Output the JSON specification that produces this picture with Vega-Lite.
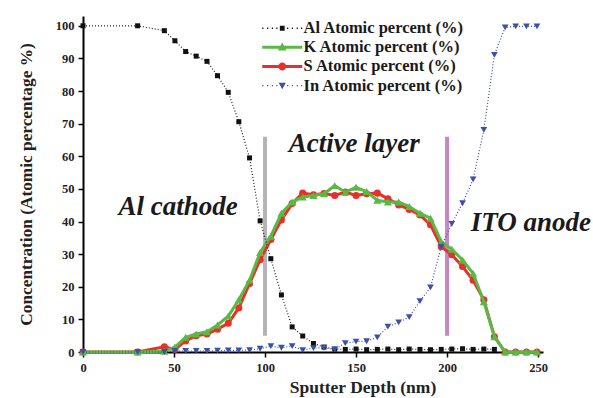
{
  "$schema": "https://vega.github.io/schema/vega-lite/v6.json",
  "width": 460,
  "height": 336,
  "autosize": "none",
  "padding": {"left": 83, "top": 16, "right": 50, "bottom": 46},
  "background": "white",
  "config": {
    "view": {"stroke": null},
    "font": "Liberation Serif",
    "axis": {
      "domainColor": "#000", "domainWidth": 2, "tickColor": "#000", "tickWidth": 1.5, "tickSize": 5,
      "labelFont": "Liberation Serif", "labelFontWeight": "bold", "labelFontSize": 12.5, "labelColor": "#222",
      "titleFont": "Liberation Serif", "titleFontWeight": "bold", "titleColor": "#222", "grid": false,
      "labelPadding": 4, "labelFlush": false
    }
  },
  "datasets": {
    "prof": [
      {"series":"S","depth":0,"value":0},{"series":"S","depth":30,"value":0},{"series":"S","depth":44.7,"value":1.6},{"series":"S","depth":50.5,"value":0.8},{"series":"S","depth":56.4,"value":3.4},{"series":"S","depth":62.2,"value":5.0},{"series":"S","depth":68.1,"value":5.5},{"series":"S","depth":73.9,"value":7.0},{"series":"S","depth":79.8,"value":8.8},{"series":"S","depth":85.6,"value":13.5},{"series":"S","depth":91.5,"value":21},{"series":"S","depth":97.3,"value":28.3},{"series":"S","depth":103.2,"value":34.5},{"series":"S","depth":109.0,"value":40.5},{"series":"S","depth":114.9,"value":45.5},{"series":"S","depth":120.7,"value":48.7},{"series":"S","depth":126.6,"value":48.2},{"series":"S","depth":132.4,"value":48.6},{"series":"S","depth":138.3,"value":48},{"series":"S","depth":144.1,"value":49},{"series":"S","depth":150.0,"value":48},{"series":"S","depth":155.8,"value":48.5},{"series":"S","depth":161.7,"value":48.7},{"series":"S","depth":167.5,"value":47},{"series":"S","depth":173.4,"value":45.1},{"series":"S","depth":179.2,"value":43.7},{"series":"S","depth":185.1,"value":42},{"series":"S","depth":190.9,"value":39},{"series":"S","depth":196.8,"value":32.3},{"series":"S","depth":202.6,"value":29.8},{"series":"S","depth":208.5,"value":26.2},{"series":"S","depth":214.3,"value":22},{"series":"S","depth":220.2,"value":16},{"series":"S","depth":226.0,"value":4.7},{"series":"S","depth":231.9,"value":0},{"series":"S","depth":237.7,"value":0},{"series":"S","depth":243.6,"value":0},{"series":"S","depth":249.4,"value":0},
      {"series":"K","depth":0,"value":0},{"series":"K","depth":30,"value":0},{"series":"K","depth":44.7,"value":0.2},{"series":"K","depth":50.5,"value":1.5},{"series":"K","depth":56.4,"value":4.5},{"series":"K","depth":62.2,"value":5.5},{"series":"K","depth":68.1,"value":6.2},{"series":"K","depth":73.9,"value":8.3},{"series":"K","depth":79.8,"value":11},{"series":"K","depth":85.6,"value":16},{"series":"K","depth":91.5,"value":22},{"series":"K","depth":97.3,"value":30.5},{"series":"K","depth":103.2,"value":35.5},{"series":"K","depth":109.0,"value":42.5},{"series":"K","depth":114.9,"value":46},{"series":"K","depth":120.7,"value":47.5},{"series":"K","depth":126.6,"value":48},{"series":"K","depth":132.4,"value":48.5},{"series":"K","depth":138.3,"value":51},{"series":"K","depth":144.1,"value":49},{"series":"K","depth":150.0,"value":50.5},{"series":"K","depth":155.8,"value":49.2},{"series":"K","depth":161.7,"value":46.5},{"series":"K","depth":167.5,"value":46},{"series":"K","depth":173.4,"value":46},{"series":"K","depth":179.2,"value":44.6},{"series":"K","depth":185.1,"value":42.5},{"series":"K","depth":190.9,"value":41},{"series":"K","depth":196.8,"value":33.8},{"series":"K","depth":202.6,"value":31.5},{"series":"K","depth":208.5,"value":28.2},{"series":"K","depth":214.3,"value":24.1},{"series":"K","depth":220.2,"value":15.4},{"series":"K","depth":226.0,"value":4.7},{"series":"K","depth":231.9,"value":0},{"series":"K","depth":237.7,"value":0},{"series":"K","depth":243.6,"value":0},{"series":"K","depth":249.4,"value":0},
      {"series":"Al","depth":0,"value":100},{"series":"Al","depth":30,"value":100},{"series":"Al","depth":44.7,"value":98.5},{"series":"Al","depth":50.5,"value":95.4},{"series":"Al","depth":56.4,"value":92.1},{"series":"Al","depth":62.2,"value":90.7},{"series":"Al","depth":68.1,"value":89.1},{"series":"Al","depth":73.9,"value":84.7},{"series":"Al","depth":79.8,"value":79.6},{"series":"Al","depth":85.6,"value":70.6},{"series":"Al","depth":91.5,"value":59.5},{"series":"Al","depth":97.3,"value":40.2},{"series":"Al","depth":103.2,"value":28.6},{"series":"Al","depth":109.0,"value":17.5},{"series":"Al","depth":114.9,"value":7.7},{"series":"Al","depth":120.7,"value":4.9},{"series":"Al","depth":126.6,"value":2.6},{"series":"Al","depth":132.4,"value":1.5},{"series":"Al","depth":138.3,"value":0.9},{"series":"Al","depth":144.1,"value":0.8},{"series":"Al","depth":150.0,"value":0.9},{"series":"Al","depth":155.8,"value":0.7},{"series":"Al","depth":161.7,"value":0.8},{"series":"Al","depth":167.5,"value":0.9},{"series":"Al","depth":173.4,"value":0.7},{"series":"Al","depth":179.2,"value":0.9},{"series":"Al","depth":185.1,"value":0.8},{"series":"Al","depth":190.9,"value":0.7},{"series":"Al","depth":196.8,"value":0.8},{"series":"Al","depth":202.6,"value":0.9},{"series":"Al","depth":208.5,"value":1.0},{"series":"Al","depth":214.3,"value":0.8},{"series":"Al","depth":220.2,"value":0.9},{"series":"Al","depth":226.0,"value":0.8},
      {"series":"In","depth":0,"value":0},{"series":"In","depth":30,"value":0},{"series":"In","depth":44.7,"value":0},{"series":"In","depth":50.5,"value":0.3},{"series":"In","depth":56.4,"value":0.3},{"series":"In","depth":62.2,"value":0.3},{"series":"In","depth":68.1,"value":0.3},{"series":"In","depth":73.9,"value":0.4},{"series":"In","depth":79.8,"value":0.5},{"series":"In","depth":85.6,"value":0.5},{"series":"In","depth":91.5,"value":0.6},{"series":"In","depth":97.3,"value":1.0},{"series":"In","depth":103.2,"value":1.8},{"series":"In","depth":109.0,"value":1.3},{"series":"In","depth":114.9,"value":1.8},{"series":"In","depth":120.7,"value":0.6},{"series":"In","depth":126.6,"value":1.2},{"series":"In","depth":132.4,"value":1.3},{"series":"In","depth":138.3,"value":0.8},{"series":"In","depth":144.1,"value":2.7},{"series":"In","depth":150.0,"value":3.2},{"series":"In","depth":155.8,"value":3.3},{"series":"In","depth":161.7,"value":4.5},{"series":"In","depth":167.5,"value":7.8},{"series":"In","depth":173.4,"value":9.1},{"series":"In","depth":179.2,"value":10.7},{"series":"In","depth":185.1,"value":15.6},{"series":"In","depth":190.9,"value":19.8},{"series":"In","depth":196.8,"value":32.3},{"series":"In","depth":202.6,"value":39.3},{"series":"In","depth":208.5,"value":45.6},{"series":"In","depth":214.3,"value":52.9},{"series":"In","depth":220.2,"value":68.1},{"series":"In","depth":226.0,"value":91.1},{"series":"In","depth":231.9,"value":99.5},{"series":"In","depth":237.7,"value":99.8},{"series":"In","depth":243.6,"value":99.8},{"series":"In","depth":249.4,"value":99.8}
    ],
    "bars": [
      {"region":"cathode","depth":100,"value":5,"top":66},
      {"region":"anode","depth":200,"value":5,"top":66}
    ],
    "notes": [
      {"label":"Al cathode","depth":52.2,"value":42},
      {"label":"Active layer","depth":149,"value":61.3},
      {"label":"ITO anode","depth":246,"value":37.1}
    ]
  },
  "encoding": {
    "x": {"field": "depth", "type": "quantitative", "scale": {"domain": [0, 252.7], "nice": false},
          "axis": {"values": [0, 50, 100, 150, 200, 250], "title": "Sputter Depth (nm)", "titleFontSize": 17.5, "titleX": 279.5, "titleY": 40.7, "titleBaseline": "alphabetic", "titleAlign": "center"}},
    "y": {"field": "value", "type": "quantitative", "scale": {"domain": [0, 103], "nice": false},
          "axis": {"values": [0, 10, 20, 30, 40, 50, 60, 70, 80, 90, 100], "title": "Concentration (Atomic percentage %)", "titleFontSize": 17.3, "titlePadding": 20}}
  },
  "layer": [
    {
      "data": {"name": "bars"},
      "mark": {"type": "rule", "strokeWidth": 4},
      "encoding": {
        "y2": {"field": "top"},
        "stroke": {"field": "region", "type": "nominal", "scale": {"domain": ["cathode", "anode"], "range": ["#b4b4b4", "#c586c3"]}, "legend": null}
      }
    },
    {
      "data": {"name": "prof"},
      "transform": [{"filter": {"field": "series", "equal": "S"}}],
      "layer": [
        {"mark": {"type": "line", "color": "#e8302a", "strokeWidth": 3}, "encoding": {}},
        {"mark": {"type": "point", "filled": true, "opacity": 1, "size": 50, "shape": "circle", "color": "#e8302a"}, "encoding": {}}
      ]
    },
    {
      "data": {"name": "prof"},
      "transform": [{"filter": {"field": "series", "equal": "K"}}],
      "layer": [
        {"mark": {"type": "line", "color": "#58b944", "strokeWidth": 3}, "encoding": {}},
        {"mark": {"type": "point", "filled": true, "opacity": 1, "size": 65, "shape": "triangle-up", "color": "#58b944"}, "encoding": {}}
      ]
    },
    {
      "data": {"name": "prof"},
      "transform": [{"filter": {"field": "series", "equal": "Al"}}],
      "layer": [
        {"mark": {"type": "line", "color": "#222222", "strokeWidth": 1.2, "strokeDash": [1, 2]}, "encoding": {}},
        {"mark": {"type": "point", "filled": true, "opacity": 1, "size": 25, "shape": "square", "color": "#111111"}, "encoding": {}}
      ]
    },
    {
      "data": {"name": "prof"},
      "transform": [{"filter": {"field": "series", "equal": "In"}}],
      "layer": [
        {"mark": {"type": "line", "color": "#3b50a8", "strokeWidth": 1.2, "strokeDash": [1, 2]}, "encoding": {}},
        {"mark": {"type": "point", "filled": true, "opacity": 1, "size": 45, "shape": "triangle-down", "color": "#3b50a8"}, "encoding": {}}
      ]
    },
    {
      "data": {"name": "prof"},
      "transform": [{"filter": {"field": "value", "lt": -1}}],
      "mark": {"type": "point", "filled": true, "opacity": 1, "size": 256, "strokeWidth": 0},
      "encoding": {
        "color": {"field": "series", "type": "nominal",
          "scale": {"domain": ["Al", "K", "S", "In"], "range": ["#111111", "#58b944", "#e8302a", "#3b50a8"]},
          "legend": {"title": null, "orient": "none", "legendX": 191, "legendY": 4, "padding": 0, "symbolSize": 256, "rowPadding": 2.1,
            "symbolOpacity": 1, "symbolStrokeWidth": 0,
            "labelFont": "Liberation Serif", "labelFontWeight": "bold", "labelFontSize": 16.5, "labelColor": "#1a1a1a", "labelOffset": 13, "labelLimit": 300,
            "labelExpr": "datum.label + ' Atomic percent (%)'"}},
        "shape": {"field": "series", "type": "nominal",
          "scale": {"domain": ["Al", "K", "S", "In"], "range": [
            "M-2.5,-0.08h0.15v0.16h-0.15ZM-1.9,-0.08h0.15v0.16h-0.15ZM-1.3,-0.08h0.15v0.16h-0.15ZM-0.75,-0.08h0.15v0.16h-0.15ZM0.6,-0.08h0.15v0.16h-0.15ZM1.2,-0.08h0.15v0.16h-0.15ZM1.8,-0.08h0.15v0.16h-0.15ZM2.35,-0.08h0.15v0.16h-0.15ZM-0.3,-0.3H0.3V0.3H-0.3Z",
            "M-2.5,-0.19H2.5V0.19H-2.5ZM0,-0.6L0.55,0.4H-0.55Z",
            "M-2.5,-0.19H2.5V0.19H-2.5ZM0.5,0C0.5,0.276 0.276,0.5 0,0.5C-0.276,0.5 -0.5,0.276 -0.5,0C-0.5,-0.276 -0.276,-0.5 0,-0.5C0.276,-0.5 0.5,-0.276 0.5,0Z",
            "M-2.5,-0.08h0.15v0.16h-0.15ZM-1.9,-0.08h0.15v0.16h-0.15ZM-1.3,-0.08h0.15v0.16h-0.15ZM-0.75,-0.08h0.15v0.16h-0.15ZM0.6,-0.08h0.15v0.16h-0.15ZM1.2,-0.08h0.15v0.16h-0.15ZM1.8,-0.08h0.15v0.16h-0.15ZM2.35,-0.08h0.15v0.16h-0.15ZM0,0.45L-0.45,-0.35H0.45Z"
          ]}}
      }
    },
    {
      "data": {"name": "notes"},
      "mark": {"type": "text", "font": "Liberation Serif", "fontStyle": "italic", "fontWeight": "bold", "fontSize": 27, "align": "center", "baseline": "alphabetic", "color": "#1a1a1a"},
      "encoding": {
        "text": {"field": "label"}
      }
    }
  ]
}
